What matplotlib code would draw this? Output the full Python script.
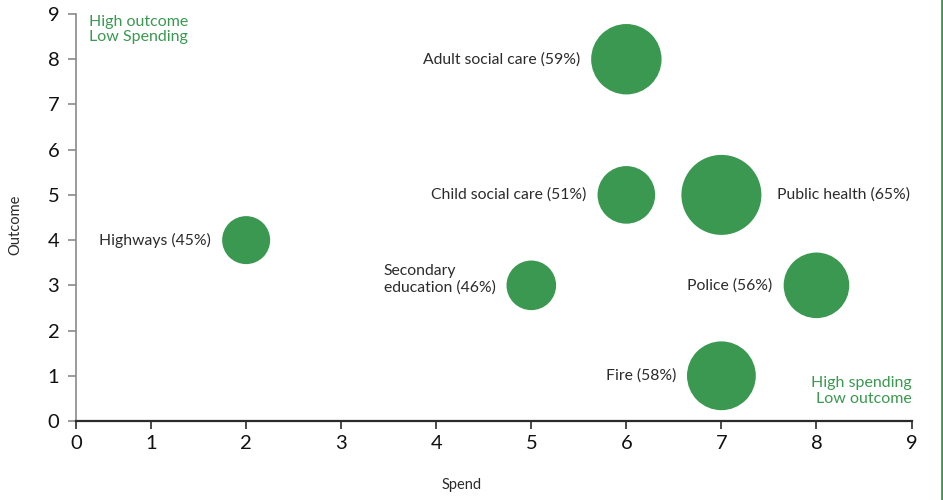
import matplotlib
matplotlib.use("Agg")
import matplotlib.pyplot as plt

plt.rcParams["font.family"] = ["Lato", "DejaVu Sans"]

GREEN = "#3a9850"
DARK = "#2b2b2b"
GREY = "#8a8a8a"

# service areas: spend score, outcome score, share (%) that sets bubble width
services = ["Adult social care", "Child social care", "Public health", "Highways",
            "Secondary\neducation", "Police", "Fire"]
spend = [6, 6, 7, 2, 5, 8, 7]
outcome = [8, 5, 5, 4, 3, 3, 1]
share = [59, 51, 65, 45, 46, 56, 58]
label_side = ["left", "left", "right", "left", "left", "left", "left"]

R_MIN, R_MAX = 24, 40  # bubble radius range in pixels


def radius_px(z):
    lo, hi = min(share), max(share)
    return R_MIN + (z - lo) / (hi - lo) * (R_MAX - R_MIN)


fig = plt.figure(figsize=(9.43, 5.0), dpi=100)
ax = fig.add_axes([0.0806, 0.158, 0.886, 0.814])

px_to_pt = 72 / fig.dpi
sizes = [(2 * radius_px(z) * px_to_pt) ** 2 for z in share]
ax.scatter(spend, outcome, s=sizes, color=GREEN, edgecolors="none", zorder=3)

for name, x, y, z, side in zip(services, spend, outcome, share, label_side):
    r = radius_px(z) * px_to_pt
    gap = 8
    dy = 4 if "\n" in name else 0
    if side == "left":
        dx, ha = -(r + gap), "right"
    else:
        dx, ha = r + gap + 3, "left"
    ax.annotate(f"{name} ({z}%)", (x, y), xytext=(dx, dy), textcoords="offset points",
                ha=ha, va="center", fontsize=11.3, color=DARK, multialignment="left",
                linespacing=1.2)

x0 = 0.21
ax.set_xlim(x0, 9)
ax.set_ylim(0, 9)
ax.set_xticks([x0] + list(range(1, 10)))
ax.set_xticklabels([str(i) for i in range(10)])
ax.set_yticks(range(10))

for s in ("top", "right"):
    ax.spines[s].set_visible(False)
ax.spines["left"].set_color(GREY)
ax.spines["left"].set_linewidth(1.2)
ax.spines["bottom"].set_color(DARK)
ax.spines["bottom"].set_linewidth(1.6)
ax.tick_params(axis="y", colors=GREY, length=6, width=1.2, labelsize=14.5,
               labelcolor="#111111", pad=6)
ax.tick_params(axis="x", colors=DARK, length=6, width=1.2, labelsize=14.5,
               labelcolor="#111111", pad=4)

fig.text(0.489, 0.03, "Spend", ha="center", va="center", fontsize=10.5, color=DARK)
fig.text(0.016, 0.55, "Outcome", ha="center", va="center", rotation=90,
         fontsize=10.5, color=DARK)

ax.text(0.016, 0.998, "High outcome\nLow Spending", transform=ax.transAxes,
        ha="left", va="top", fontsize=11.5, color=GREEN, linespacing=1.1)
ax.text(1.0, 0.038, "High spending\nLow outcome", transform=ax.transAxes,
        ha="right", va="bottom", fontsize=11.5, color=GREEN, linespacing=1.1,
        multialignment="right")

# green rule down the right edge of the panel
fig.add_artist(plt.Line2D([0.9985, 0.9985], [0, 1], transform=fig.transFigure,
                          color=GREEN, linewidth=2))

fig.savefig("out.png", dpi=100, facecolor="white")
